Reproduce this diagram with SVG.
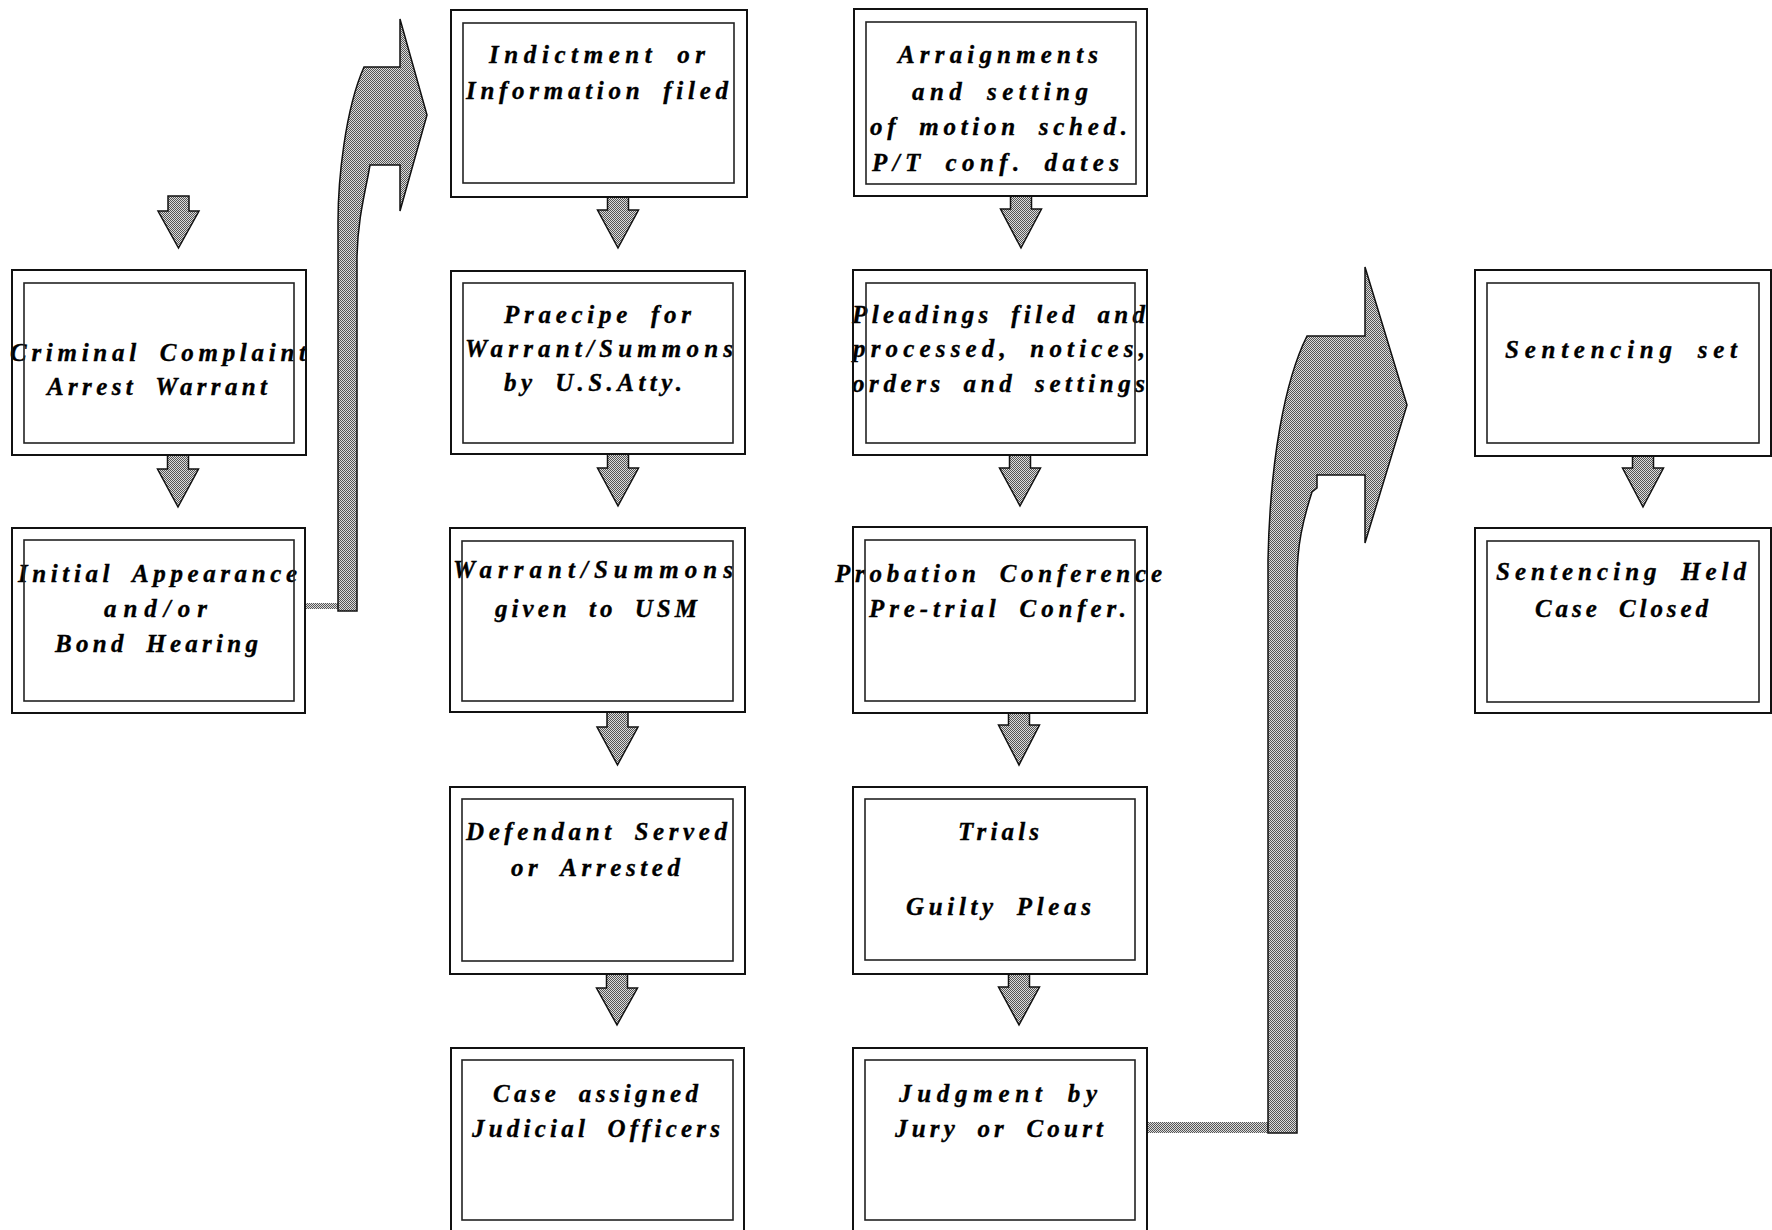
<svg xmlns="http://www.w3.org/2000/svg" width="1772" height="1230" viewBox="0 0 1772 1230">
<defs>
<pattern id="dots" width="2" height="2" patternUnits="userSpaceOnUse">
<rect width="2" height="2" fill="#dcdcdc"/>
<rect width="1" height="1" fill="#555"/>
<rect x="1" y="1" width="1" height="1" fill="#555"/>
</pattern>
</defs>
<style>
.o{fill:#fff;stroke:#111;stroke-width:2}
.i{fill:none;stroke:#222;stroke-width:1.6}
.f{fill:none;stroke:#111;stroke-width:2}
.t{font-family:"Liberation Serif","Times New Roman",serif;font-weight:bold;font-style:italic;font-size:25px;fill:#000;stroke:#000;stroke-width:0.35;word-spacing:8px}
.a{fill:url(#dots);stroke:#111;stroke-width:1.5;stroke-linejoin:miter}
.band{fill:url(#dots);stroke:none}
</style>
<rect width="1772" height="1230" fill="#fff"/>

<g id="connectors">
<rect class="band" x="305" y="603" width="34" height="6"/>
<path class="a" d="M338,611 L338,222 C338,180 345,110 364,67 L400,67 L400,19 L427,115 L400,211 L400,165 L370,165 L368,176 C362,205 357,230 357,260 L357,611 Z"/>
<rect class="band" x="1147" y="1122" width="122" height="11"/>
<path class="a" d="M1268,1133 L1268,560 C1270,460 1285,380 1307,336 L1365,336 L1365,267 L1407,405 L1365,543 L1365,475 L1317,475 L1317,488 L1312,492 C1303,520 1297,545 1297,580 L1297,1133 Z"/>
<path class="a" d="M168,196 L189,196 L189,211 L199,211 L178.5,248 L158,211 L168,211 Z"/>
<path class="a" d="M167.5,455 L188.5,455 L188.5,469 L198.5,469 L178,507 L157.5,469 L167.5,469 Z"/>
<path class="a" d="M607.5,197 L628.5,197 L628.5,210 L638.5,210 L618,248 L597.5,210 L607.5,210 Z"/>
<path class="a" d="M607.5,454 L628.5,454 L628.5,468 L638.5,468 L618,506 L597.5,468 L607.5,468 Z"/>
<path class="a" d="M607,712 L628,712 L628,727 L638,727 L617.5,765 L597,727 L607,727 Z"/>
<path class="a" d="M606.5,974 L627.5,974 L627.5,988 L637.5,988 L617,1025 L596.5,988 L606.5,988 Z"/>
<path class="a" d="M1010.5,196 L1031.5,196 L1031.5,209 L1041.5,209 L1021,248 L1000.5,209 L1010.5,209 Z"/>
<path class="a" d="M1009.5,455 L1030.5,455 L1030.5,468 L1040.5,468 L1020,506 L999.5,468 L1009.5,468 Z"/>
<path class="a" d="M1008.5,713 L1029.5,713 L1029.5,725 L1039.5,725 L1019,765 L998.5,725 L1008.5,725 Z"/>
<path class="a" d="M1008.5,974 L1029.5,974 L1029.5,987 L1039.5,987 L1019,1025 L998.5,987 L1008.5,987 Z"/>
<path class="a" d="M1632.5,456 L1653.5,456 L1653.5,468 L1663.5,468 L1643,507 L1622.5,468 L1632.5,468 Z"/>
</g>

<g id="n1">
<rect class="o" x="12" y="270" width="294" height="185"/>
<text class="t" x="10" y="361" textLength="296" lengthAdjust="spacing">Criminal Complaint</text>
<text class="t" x="47" y="395" textLength="220" lengthAdjust="spacing">Arrest Warrant</text>
<rect class="i" x="24" y="283" width="270" height="160"/>
<rect class="f" x="12" y="270" width="294" height="185"/>
</g>

<g id="n2">
<rect class="o" x="12" y="528" width="293" height="185"/>
<text class="t" x="18" y="582" textLength="279" lengthAdjust="spacing">Initial Appearance</text>
<text class="t" x="104" y="617" textLength="103" lengthAdjust="spacing">and/or</text>
<text class="t" x="55" y="652" textLength="203" lengthAdjust="spacing">Bond Hearing</text>
<rect class="i" x="24" y="540" width="270" height="161"/>
<rect class="f" x="12" y="528" width="293" height="185"/>
</g>

<g id="n3">
<rect class="o" x="451" y="10" width="296" height="187"/>
<text class="t" x="489" y="63" textLength="216" lengthAdjust="spacing">Indictment or</text>
<text class="t" x="466" y="99" textLength="262" lengthAdjust="spacing">Information filed</text>
<rect class="i" x="463" y="23" width="271" height="160"/>
<rect class="f" x="451" y="10" width="296" height="187"/>
</g>

<g id="n4">
<rect class="o" x="451" y="271" width="294" height="183"/>
<text class="t" x="504" y="323" textLength="187" lengthAdjust="spacing">Praecipe for</text>
<text class="t" x="465" y="357" textLength="268" lengthAdjust="spacing">Warrant/Summons</text>
<text class="t" x="504" y="391" textLength="178" lengthAdjust="spacing">by U.S.Atty.</text>
<rect class="i" x="463" y="283" width="270" height="160"/>
<rect class="f" x="451" y="271" width="294" height="183"/>
</g>

<g id="n5">
<rect class="o" x="450" y="528" width="295" height="184"/>
<text class="t" x="453" y="578" textLength="280" lengthAdjust="spacing">Warrant/Summons</text>
<text class="t" x="495" y="617" textLength="202" lengthAdjust="spacing">given to USM</text>
<rect class="i" x="462" y="541" width="271" height="160"/>
<rect class="f" x="450" y="528" width="295" height="184"/>
</g>

<g id="n6">
<rect class="o" x="450" y="787" width="295" height="187"/>
<text class="t" x="466" y="840" textLength="261" lengthAdjust="spacing">Defendant Served</text>
<text class="t" x="511" y="876" textLength="169" lengthAdjust="spacing">or Arrested</text>
<rect class="i" x="462" y="799" width="271" height="162"/>
<rect class="f" x="450" y="787" width="295" height="187"/>
</g>

<g id="n7">
<rect class="o" x="451" y="1048" width="293" height="184"/>
<text class="t" x="493" y="1102" textLength="205" lengthAdjust="spacing">Case assigned</text>
<text class="t" x="472" y="1137" textLength="248" lengthAdjust="spacing">Judicial Officers</text>
<rect class="i" x="462" y="1060" width="271" height="160"/>
<rect class="f" x="451" y="1048" width="293" height="184"/>
</g>

<g id="n8">
<rect class="o" x="854" y="9" width="293" height="187"/>
<text class="t" x="898" y="63" textLength="200" lengthAdjust="spacing">Arraignments</text>
<text class="t" x="912" y="100" textLength="176" lengthAdjust="spacing">and setting</text>
<text class="t" x="870" y="135" textLength="257" lengthAdjust="spacing">of motion sched.</text>
<text class="t" x="872" y="171" textLength="247" lengthAdjust="spacing">P/T conf. dates</text>
<rect class="i" x="866" y="22" width="270" height="162"/>
<rect class="f" x="854" y="9" width="293" height="187"/>
</g>

<g id="n9">
<rect class="o" x="853" y="270" width="294" height="185"/>
<text class="t" x="852" y="323" textLength="293" lengthAdjust="spacing">Pleadings filed and</text>
<text class="t" x="853" y="357" textLength="292" lengthAdjust="spacing">processed, notices,</text>
<text class="t" x="852" y="392" textLength="293" lengthAdjust="spacing">orders and settings</text>
<rect class="i" x="866" y="283" width="269" height="160"/>
<rect class="f" x="853" y="270" width="294" height="185"/>
</g>

<g id="n10">
<rect class="o" x="853" y="527" width="294" height="186"/>
<text class="t" x="835" y="582" textLength="327" lengthAdjust="spacing">Probation Conference</text>
<text class="t" x="869" y="617" textLength="257" lengthAdjust="spacing">Pre-trial Confer.</text>
<rect class="i" x="865" y="540" width="270" height="161"/>
<rect class="f" x="853" y="527" width="294" height="186"/>
</g>

<g id="n11">
<rect class="o" x="853" y="787" width="294" height="187"/>
<text class="t" x="958" y="840" textLength="81" lengthAdjust="spacing">Trials</text>
<text class="t" x="906" y="915" textLength="185" lengthAdjust="spacing">Guilty Pleas</text>
<rect class="i" x="865" y="799" width="270" height="161"/>
<rect class="f" x="853" y="787" width="294" height="187"/>
</g>

<g id="n12">
<rect class="o" x="853" y="1048" width="294" height="184"/>
<text class="t" x="899" y="1102" textLength="198" lengthAdjust="spacing">Judgment by</text>
<text class="t" x="895" y="1137" textLength="208" lengthAdjust="spacing">Jury or Court</text>
<rect class="i" x="865" y="1060" width="270" height="160"/>
<rect class="f" x="853" y="1048" width="294" height="184"/>
</g>

<g id="n13">
<rect class="o" x="1475" y="270" width="296" height="186"/>
<text class="t" x="1505" y="358" textLength="232" lengthAdjust="spacing">Sentencing set</text>
<rect class="i" x="1487" y="283" width="272" height="160"/>
<rect class="f" x="1475" y="270" width="296" height="186"/>
</g>

<g id="n14">
<rect class="o" x="1475" y="528" width="296" height="185"/>
<text class="t" x="1496" y="580" textLength="250" lengthAdjust="spacing">Sentencing Held</text>
<text class="t" x="1535" y="617" textLength="173" lengthAdjust="spacing">Case Closed</text>
<rect class="i" x="1487" y="541" width="272" height="161"/>
<rect class="f" x="1475" y="528" width="296" height="185"/>
</g>
</svg>
